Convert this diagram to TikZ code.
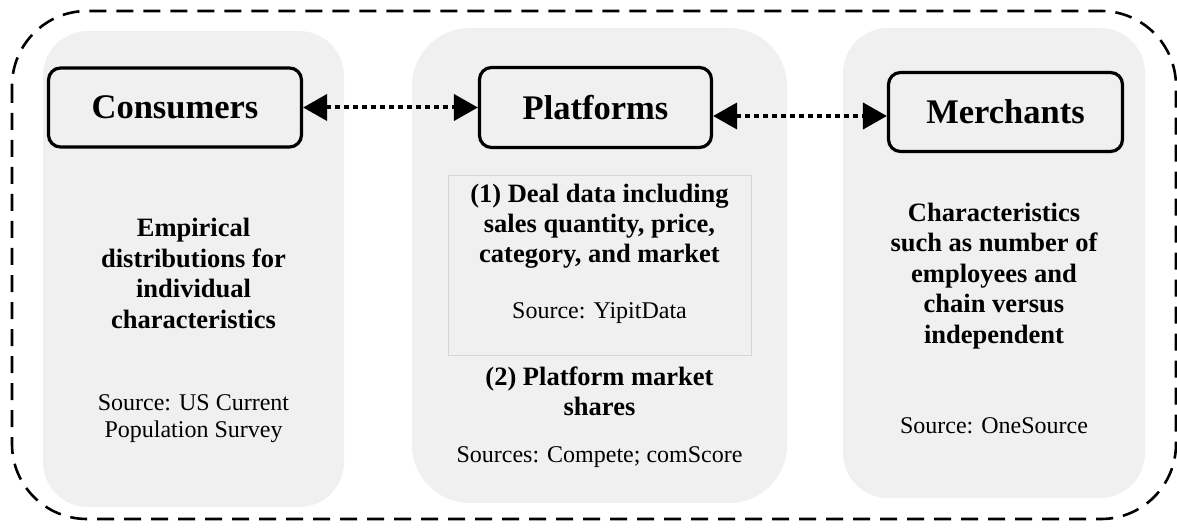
\documentclass[tikz,border=0pt]{standalone}
\usepackage{fontspec}
\setmainfont{Liberation Serif}
\usetikzlibrary{arrows.meta}
\definecolor{panel}{HTML}{F0F0F0}
\definecolor{thinbox}{HTML}{D6D6D6}
\begin{document}
\begin{tikzpicture}[x=1pt,y=-1pt,
  panelbox/.style={fill=panel, draw=none},
  actor/.style={draw=black, fill=panel, line width=3.2pt, rounded corners=12pt, inner sep=0pt,
    font=\fontsize{34.5}{40}\selectfont\bfseries},
  bodybold/.style={align=center, font=\fontsize{26.5}{30.5}\selectfont\bfseries, inner sep=0pt, anchor=base},
  bodysrc/.style={align=center, font=\fontsize{24}{27}\selectfont, inner sep=0pt, anchor=base},
  link/.style={line width=4pt, dash pattern=on 5pt off 4pt,
    {Triangle[length=24pt,width=26pt]}-{Triangle[length=24pt,width=26pt]}, shorten <=0pt, shorten >=0pt},
  outer/.style={line width=2.6pt, dash pattern=on 17pt off 10pt, rounded corners=75pt},
]
\useasboundingbox (0,0) rectangle (1177,529);
% outer dashed frame
\draw[outer] (12,11) rectangle (1176,519);
% panels
\fill[panelbox, rounded corners=45pt] (43,31) rectangle (344,507);
\fill[panelbox, rounded corners=58pt] (412,28) rectangle (787,503);
\fill[panelbox, rounded corners=45pt] (843,28) rectangle (1145,498);
% actor boxes
\node[actor, minimum width=253pt, minimum height=79pt] (cons) at (175,107.5) {Consumers};
\node[actor, minimum width=232pt, minimum height=80pt] (plat) at (595.5,107.5) {Platforms};
\node[actor, minimum width=234pt, minimum height=79pt] (merch) at (1005.5,112) {Merchants};
% connectors
\draw[link] (cons.east) -- (plat.west);
\draw[link] ([yshift=-8.5pt]plat.east) -- ([yshift=-4pt]merch.west);
% consumers texts (base anchor = last line baseline)
\node[bodybold] (consbody) at (193.5,328) {Empirical\\distributions for\\individual\\characteristics};
\node[bodysrc] (conssrc) at (193.5,437) {Source: US Current\\Population Survey};
% platforms texts
\draw[thinbox, line width=1pt] (448,176) rectangle (751,355);
\node[bodybold, font=\fontsize{26.5}{29.5}\selectfont\bfseries] (platdeal) at (599.5,262) {(1) Deal data including\\sales quantity, price,\\category, and market};
\node[bodysrc] (platsrc1) at (599.5,318) {Source: YipitData};
\node[bodybold, font=\fontsize{26.5}{30}\selectfont\bfseries] (platshare) at (599.5,415) {(2) Platform market\\shares};
\node[bodysrc] (platsrc2) at (599.5,462) {Sources: Compete; comScore};
% merchants texts
\node[bodybold] (merchbody) at (994,343) {Characteristics\\such as number of\\employees and\\chain versus\\independent};
\node[bodysrc] (merchsrc) at (994,433) {Source: OneSource};
\end{tikzpicture}
\end{document}
